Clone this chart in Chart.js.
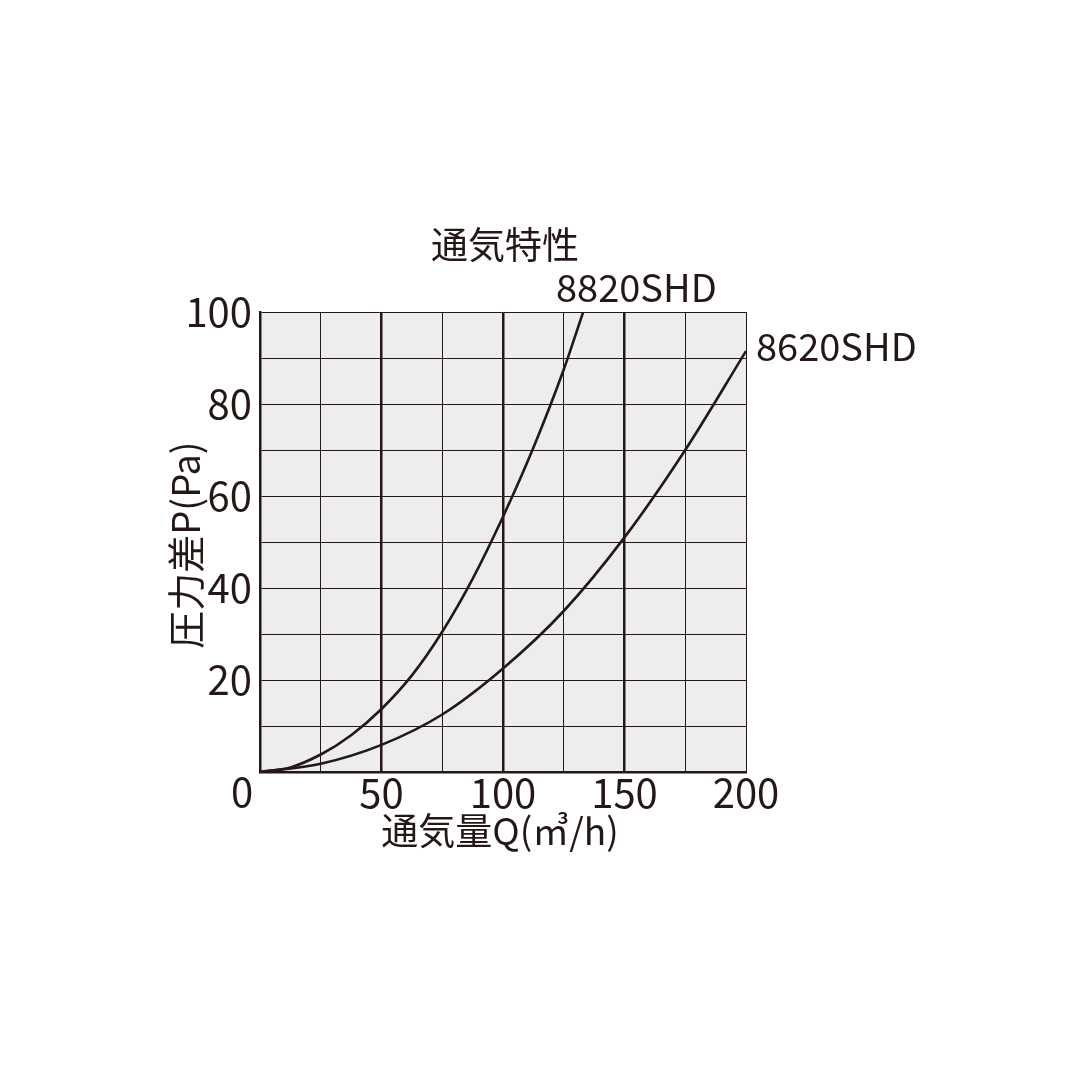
<!DOCTYPE html>
<html>
<head>
<meta charset="utf-8">
<script src="https://cdn.jsdelivr.net/npm/chart.js@4"></script>
<style>
  html, body { margin: 0; padding: 0; background: #fff; }
  #wrap { width: 1080px; height: 1080px; }
</style>
</head>
<body>
<div id="wrap"><canvas id="myChart" width="1080" height="1080"></canvas></div>
<script>
// 通気量Q (㎥/h) と 圧力差P (Pa)
var q8820 = [0, 12.5, 25, 37.5, 50, 62.5, 75, 87.5, 100, 112.5, 125, 133];
var p8820 = [0, 1.0, 3.8, 8.0, 13.7, 21.0, 30.5, 42.0, 55.5, 70.5, 87.5, 100];
var q8620 = [0, 25, 50, 75, 100, 125, 150, 175, 200];
var p8620 = [0, 1.8, 5.9, 12.5, 22.5, 35.0, 51.0, 70.0, 91.5];
var xTickLabels = [50, 100, 150, 200];
var yTickLabels = [20, 40, 60, 80, 100];
var seriesNames = ['8820SHD', '8620SHD'];

var ink = '#231815';
var jpFont = '"Noto Sans CJK JP", "Noto Sans", sans-serif';

function toPoints(xs, ys) {
    return xs.map(function(x, i) { return { x: x, y: ys[i] }; });
}

// 背景・タイトル・ラベル
var decor = {
    id: 'decor',
    beforeDraw: function(chart) {
        var a = chart.chartArea, c = chart.ctx;
        c.save();
        c.fillStyle = '#ededee';
        c.fillRect(a.left, a.top, a.right - a.left, a.bottom - a.top);
        c.restore();
    },
    afterDraw: function(chart) {
        var c = chart.ctx;
        c.save();
        c.fillStyle = ink;
        c.textBaseline = 'middle';
        c.textAlign = 'center';
        c.font = '37px ' + jpFont;
        c.fillText('通気特性', 505, 245);
        c.textAlign = 'left';
        c.font = '38px ' + jpFont;
        c.fillText(seriesNames[0], 556, 288);
        c.save();
        c.beginPath();
        c.rect(0, 0, 915, 1080);
        c.clip();
        c.fillText(seriesNames[1], 756, 347);
        c.restore();
        c.font = '40px ' + jpFont;
        c.textAlign = 'center';
        c.fillText('0', 242, 792);
        c.font = '37px ' + jpFont;
        c.fillText('通気量Q(㎥/h)', 500, 831);
        c.translate(186, 545);
        c.rotate(-Math.PI / 2);
        c.font = '38px ' + jpFont;
        c.fillText('圧力差P(Pa)', 0, 0);
        c.restore();
    }
};

var ctx = document.getElementById('myChart').getContext('2d');
var myChart = new Chart(ctx, {
    type: 'line',
    data: {
        datasets: [{
            label: seriesNames[0],
            data: toPoints(q8820, p8820),
            borderColor: ink,
            borderWidth: 2.6,
            pointRadius: 0,
            cubicInterpolationMode: 'monotone'
        }, {
            label: seriesNames[1],
            data: toPoints(q8620, p8620),
            borderColor: ink,
            borderWidth: 2.6,
            pointRadius: 0,
            cubicInterpolationMode: 'monotone'
        }]
    },
    options: {
        responsive: false,
        animation: false,
        layout: { padding: { left: 0, top: 312, right: 334, bottom: 0 } },
        plugins: {
            legend: { display: false },
            tooltip: { enabled: false }
        },
        scales: {
            x: {
                type: 'linear',
                min: 0,
                max: 200,
                afterFit: function(scale) { scale.height = 308; },
                border: { color: ink, width: 2.5 },
                grid: {
                    drawTicks: false,
                    color: ink,
                    lineWidth: function(c) {
                        var v = c.tick ? c.tick.value : 0;
                        return (v === 50 || v === 100 || v === 150) ? 2.5 : 1;
                    }
                },
                ticks: {
                    stepSize: 25,
                    padding: -3,
                    color: ink,
                    font: { family: jpFont, size: 40 },
                    maxRotation: 0,
                    autoSkip: false,
                    callback: function(v) { return xTickLabels.indexOf(v) >= 0 ? String(v) : ''; }
                }
            },
            y: {
                type: 'linear',
                min: 0,
                max: 100,
                afterFit: function(scale) { scale.width = 260; },
                border: { color: ink, width: 2.5 },
                grid: { drawTicks: false, color: ink, lineWidth: 1 },
                ticks: {
                    stepSize: 10,
                    padding: 8,
                    color: ink,
                    font: { family: jpFont, size: 40 },
                    autoSkip: false,
                    callback: function(v) { return yTickLabels.indexOf(v) >= 0 ? String(v) : ''; }
                }
            }
        }
    },
    plugins: [decor]
});
</script>
</body>
</html>
